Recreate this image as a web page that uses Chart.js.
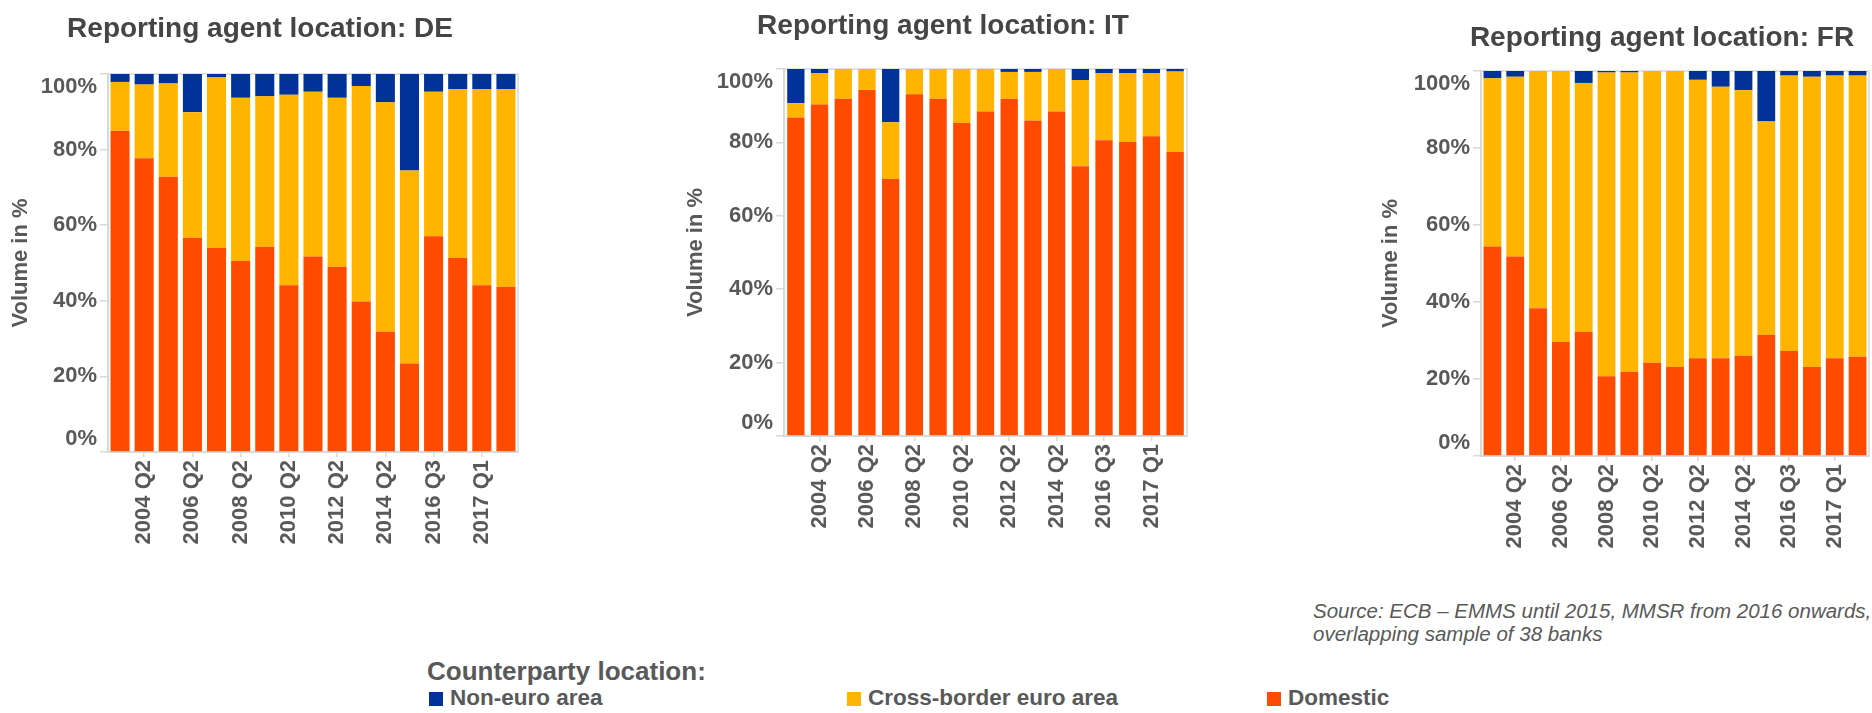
<!DOCTYPE html>
<html>
<head>
<meta charset="utf-8">
<script src="https://cdn.jsdelivr.net/npm/chart.js@4.4.1/dist/chart.umd.min.js"></script>
<style>
  html, body { margin: 0; padding: 0; background: #ffffff; }
  body { width: 1872px; height: 713px; overflow: hidden; position: relative; font-family: "Liberation Sans", Arial, sans-serif; }
  .box { position: absolute; top: 0; }
  .legtitle { position: absolute; left: 427px; top: 658px; font-size: 26px; line-height: 26px; font-weight: bold; color: #595959; white-space: nowrap; }
  .item { position: absolute; top: 687px; font-size: 22.5px; line-height: 22.5px; font-weight: bold; color: #595959; white-space: nowrap; }
  .sw { display: inline-block; width: 14px; height: 14px; margin-right: 7px; vertical-align: -1px; }
  .source { position: absolute; left: 1313px; top: 599px; font-size: 20.5px; line-height: 23px; font-style: italic; color: #595959; white-space: nowrap; }
</style>
</head>
<body>
<div class="box" style="left:0px"><canvas id="cDE" width="520" height="560"></canvas></div>
<div class="box" style="left:674px"><canvas id="cIT" width="538" height="544"></canvas></div>
<div class="box" style="left:1369px"><canvas id="cFR" width="586" height="564"></canvas></div>

<div class="source">Source: ECB – EMMS until 2015, MMSR from 2016 onwards,<br>overlapping sample of 38 banks</div>
<div class="legtitle">Counterparty location:</div>
<div class="item" style="left:429px"><span class="sw" style="background:#003299"></span>Non-euro area</div>
<div class="item" style="left:847px"><span class="sw" style="background:#FFB400"></span>Cross-border euro area</div>
<div class="item" style="left:1267px"><span class="sw" style="background:#FF4B00"></span>Domestic</div>

<script>
// ---- data ----
const categories = ['2003 Q2','2004 Q2','2005 Q2','2006 Q2','2007 Q2','2008 Q2','2009 Q2','2010 Q2','2011 Q2','2012 Q2','2013 Q2','2014 Q2','2015 Q2','2016 Q3','2016 Q4','2017 Q1','2017 Q2'];
const tickLabels = ['','2004 Q2','','2006 Q2','','2008 Q2','','2010 Q2','','2012 Q2','','2014 Q2','','2016 Q3','','2017 Q1',''];
const seriesNames = ['Domestic','Cross-border euro area','Non-euro area'];

const domDE   = [85.0, 77.7, 72.8, 56.7, 54.0, 50.5, 54.3, 44.1, 51.7, 49.0, 39.8, 31.8, 23.4, 57.1, 51.4, 44.1, 43.7];
const crossDE = [12.9, 19.5, 24.7, 33.2, 45.1, 43.2, 39.8, 50.4, 43.6, 44.7, 57.0, 60.7, 51.1, 38.2, 44.6, 51.9, 52.3];
const nonDE   = [ 2.1,  2.8,  2.5, 10.1,  0.9,  6.3,  5.9,  5.5,  4.7,  6.3,  3.2,  7.5, 25.5,  4.7,  4.0,  4.0,  4.0];

const domIT   = [86.8, 90.3, 91.9, 94.3, 70.0, 93.1, 91.9, 85.3, 88.4, 91.9, 86.0, 88.4, 73.5, 80.6, 80.1, 81.7, 77.4];
const crossIT = [ 3.9,  8.6,  8.1,  5.7, 15.5,  6.9,  8.1, 14.7, 11.6,  7.3, 13.2, 11.6, 23.5, 18.3, 18.8, 17.2, 21.9];
const nonIT   = [ 9.3,  1.1,  0.0,  0.0, 14.5,  0.0,  0.0,  0.0,  0.0,  0.8,  0.8,  0.0,  3.0,  1.1,  1.1,  1.1,  0.7];

const domFR   = [54.4, 51.8, 38.4, 29.6, 32.2, 20.7, 21.9, 24.2, 23.1, 25.4, 25.4, 26.0, 31.5, 27.3, 23.1, 25.4, 25.8];
const crossFR = [43.7, 46.7, 61.6, 70.4, 64.7, 78.9, 77.7, 75.8, 76.9, 72.3, 70.5, 69.0, 55.4, 71.5, 75.4, 73.4, 73.0];
const nonFR   = [ 1.9,  1.5,  0.0,  0.0,  3.1,  0.4,  0.4,  0.0,  0.0,  2.3,  4.1,  5.0, 13.1,  1.2,  1.5,  1.2,  1.2];

// ---- styling ----
const COLORS = { dom: '#FF4B00', cross: '#FFB400', non: '#003299' };
const FONT = '"Liberation Sans", Arial, sans-serif';
const TEXT = '#595959';
const LINE = '#d9d9d9';

const framePlugin = {
  id: 'frame',
  beforeDatasetsDraw(chart) {
    const a = chart.chartArea, ctx = chart.ctx;
    ctx.save();
    ctx.strokeStyle = LINE;
    ctx.lineWidth = 1.5;
    ctx.strokeRect(a.left, a.top, a.right - a.left, a.bottom - a.top);
    ctx.restore();
  }
};

function makeChart(id, title, dom, cross, non, L) {
  new Chart(document.getElementById(id), {
    type: 'bar',
    data: {
      labels: categories,
      datasets: [
        { label: seriesNames[0], data: dom,   backgroundColor: COLORS.dom,   borderWidth: 0 },
        { label: seriesNames[1], data: cross, backgroundColor: COLORS.cross, borderWidth: 0 },
        { label: seriesNames[2], data: non,   backgroundColor: COLORS.non,   borderWidth: 0 }
      ]
    },
    options: {
      responsive: false,
      animation: false,
      devicePixelRatio: 1,
      datasets: { bar: { categoryPercentage: 1.0, barPercentage: L.bar } },
      layout: { padding: 0 },
      plugins: {
        legend: { display: false },
        tooltip: { enabled: false },
        title: {
          display: true, text: title, color: '#454545',
          font: { family: FONT, size: 28, weight: 'bold', lineHeight: 1.2 },
          padding: { top: L.titleTop, bottom: L.titleBottom }
        }
      },
      scales: {
        x: {
          stacked: true,
          offset: true,
          afterFit(s) { s.height = 108; s.paddingLeft = 0; s.paddingRight = 0; },
          border: { display: true, color: LINE, width: 2 },
          grid: {
            offset: false, drawOnChartArea: false, drawTicks: true, tickLength: 5,
            tickColor: (c) => (tickLabels[c.index] ? LINE : 'rgba(0,0,0,0)'), lineWidth: 1.5
          },
          ticks: {
            autoSkip: false, minRotation: 90, maxRotation: 90, padding: 3,
            color: TEXT, font: { family: FONT, size: 22, weight: 'bold' },
            callback: (v, i) => tickLabels[i]
          }
        },
        y: {
          stacked: true,
          min: 0, max: 100,
          afterFit(s) { s.width = L.yWidth; s.paddingTop = 0; s.paddingBottom = 0; },
          border: { display: true, color: LINE, width: 2 },
          grid: { drawOnChartArea: false, drawTicks: true, tickLength: 8, tickColor: LINE, lineWidth: 1.5 },
          ticks: {
            stepSize: 20, padding: 3, color: TEXT,
            font: { family: FONT, size: 22, weight: 'bold', lineHeight: 1.2 },
            callback: (v) => v === 100 ? ['', v + '%'] : (v === 0 ? [v + '%', ''] : v + '%')
          },
          title: {
            display: true, text: 'Volume in %', color: TEXT,
            font: { family: FONT, size: 22, weight: 'bold', lineHeight: 1.2 },
            padding: { top: L.ytPad, bottom: 0 }
          }
        },
        yR: {
          position: 'right', display: true, min: 0, max: 1,
          afterFit(s) { s.width = L.rightSpace; s.paddingTop = 0; s.paddingBottom = 0; },
          grid: { display: false }, border: { display: false }, ticks: { display: false }
        }
      }
    },
    plugins: [framePlugin]
  });
}

makeChart('cDE', 'Reporting agent location: DE', domDE, crossDE, nonDE,
  { bar: 0.79, rightSpace: 2, titleTop: 12, titleBottom: 28.4, yWidth: 108, ytPad: 8 });
makeChart('cIT', 'Reporting agent location: IT', domIT, crossIT, nonIT,
  { bar: 0.73, rightSpace: 25, titleTop: 9, titleBottom: 26.4, yWidth: 110, ytPad: 9 });
makeChart('cFR', 'Reporting agent location: FR', domFR, crossFR, nonFR,
  { bar: 0.78, rightSpace: 86, titleTop: 21, titleBottom: 16.4, yWidth: 112, ytPad: 9 });
</script>
</body>
</html>
